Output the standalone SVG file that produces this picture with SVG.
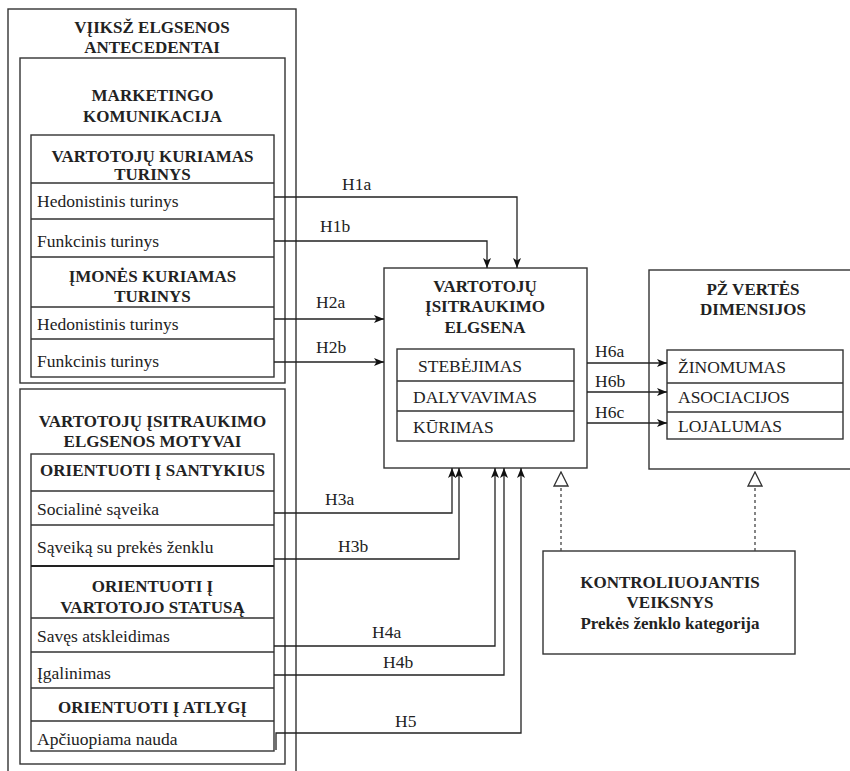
<svg xmlns="http://www.w3.org/2000/svg" width="850" height="771" viewBox="0 0 850 771">
<defs>
<style>
.box{fill:none;stroke:#333;stroke-width:1.4}
.ln{fill:none;stroke:#333;stroke-width:1.3}
.thick{fill:none;stroke:#222;stroke-width:2.2}
text{font-family:'Liberation Serif','DejaVu Serif',serif;fill:#222}
.t{font-size:17.5px}
.b{font-size:17px;font-weight:bold;text-anchor:middle}
.c{fill:none;stroke:#222;stroke-width:1.3}
.d{fill:none;stroke:#444;stroke-width:1.3;stroke-dasharray:3,3}
</style>
<marker id="arr" viewBox="0 0 10 8" refX="10" refY="4" markerWidth="10" markerHeight="8" markerUnits="userSpaceOnUse" orient="auto">
<path d="M0,0 L10,4 L0,8 L2.5,4 Z" fill="#111"/>
</marker>
<marker id="tri" viewBox="0 0 16 16" refX="15" refY="8" markerWidth="16" markerHeight="16" markerUnits="userSpaceOnUse" orient="auto">
<path d="M1,1 L15,8 L1,15 Z" fill="#fff" stroke="#333" stroke-width="1.3"/>
</marker>
</defs>
<rect width="850" height="771" fill="#fff"/>

<g id="antecedentai" font-family="Liberation Serif, serif">
<rect class="box" x="8" y="9" width="288" height="775"/>
<text class="b" x="152" y="33">VĮIKSŽ ELGSENOS</text>
<text class="b" x="152" y="53">ANTECEDENTAI</text>
</g>

<g id="marketingo">
<rect class="box" x="20" y="58" width="265" height="325"/>
<text class="b" x="152.5" y="101">MARKETINGO</text>
<text class="b" x="152.5" y="122">KOMUNIKACIJA</text>
</g>

<g id="turinys">
<rect class="box" x="31" y="135" width="243" height="242"/>
<path class="ln" d="M31,183 H274 M31,219 H274 M31,257 H274 M31,307 H274 M31,339 H274"/>
<text class="b" x="152.5" y="162">VARTOTOJŲ KURIAMAS</text>
<text class="b" x="152.5" y="180">TURINYS</text>
<text class="t" x="37" y="207">Hedonistinis turinys</text>
<text class="t" x="37" y="247">Funkcinis turinys</text>
<text class="b" x="152.5" y="282">ĮMONĖS KURIAMAS</text>
<text class="b" x="152.5" y="302">TURINYS</text>
<text class="t" x="37" y="330">Hedonistinis turinys</text>
<text class="t" x="37" y="367">Funkcinis turinys</text>
</g>

<g id="motyvai">
<rect class="box" x="20" y="389" width="265" height="375"/>
<text class="b" x="152.5" y="427">VARTOTOJŲ ĮSITRAUKIMO</text>
<text class="b" x="152.5" y="447">ELGSENOS MOTYVAI</text>
</g>

<g id="orientuoti">
<rect class="box" x="31" y="454" width="243" height="297"/>
<path class="ln" d="M31,491 H274 M31,525 H274 M31,618 H274 M31,652 H274 M31,688 H274 M31,721 H274"/>
<path class="thick" d="M31,566 H274"/>
<text class="b" x="152.5" y="476">ORIENTUOTI Į SANTYKIUS</text>
<text class="t" x="37" y="515">Socialinė sąveika</text>
<text class="t" x="37" y="553">Sąveiką su prekės ženklu</text>
<text class="b" x="152.5" y="592">ORIENTUOTI Į</text>
<text class="b" x="152.5" y="613">VARTOTOJO STATUSĄ</text>
<text class="t" x="37" y="642">Savęs atskleidimas</text>
<text class="t" x="37" y="679">Įgalinimas</text>
<text class="b" x="152.5" y="713">ORIENTUOTI Į ATLYGĮ</text>
<text class="t" x="37" y="745">Apčiuopiama nauda</text>
</g>

<g id="elgsena">
<rect class="box" x="384" y="268" width="203" height="200"/>
<text class="b" x="485" y="292">VARTOTOJŲ</text>
<text class="b" x="485" y="312">ĮSITRAUKIMO</text>
<text class="b" x="485" y="333">ELGSENA</text>
<rect class="box" x="397" y="349" width="177" height="92"/>
<path class="ln" d="M397,381 H574 M397,411 H574"/>
<text class="t" x="418" y="372">STEBĖJIMAS</text>
<text class="t" x="413" y="403">DALYVAVIMAS</text>
<text class="t" x="413" y="433">KŪRIMAS</text>
</g>

<g id="dimensijos">
<rect class="box" x="649" y="270" width="215" height="199"/>
<text class="b" x="753" y="295">PŽ VERTĖS</text>
<text class="b" x="753" y="315">DIMENSIJOS</text>
<rect class="box" x="667" y="350" width="176" height="89"/>
<path class="ln" d="M667,383 H843 M667,412 H843"/>
<text class="t" x="678" y="373">ŽINOMUMAS</text>
<text class="t" x="678" y="403">ASOCIACIJOS</text>
<text class="t" x="678" y="432">LOJALUMAS</text>
</g>

<g id="kontroliuojantis">
<rect class="box" x="543" y="551" width="252" height="103"/>
<text class="b" x="670" y="588">KONTROLIUOJANTIS</text>
<text class="b" x="670" y="608">VEIKSNYS</text>
<text class="b" x="670" y="629">Prekės ženklo kategorija</text>
</g>

<g id="connectors">
<path class="c" d="M274,197 H517 V268" marker-end="url(#arr)"/>
<path class="c" d="M274,241 H487 V268" marker-end="url(#arr)"/>
<path class="c" d="M274,319 H384" marker-end="url(#arr)"/>
<path class="c" d="M274,362 H384" marker-end="url(#arr)"/>
<path class="c" d="M274,513 H452 V468" marker-end="url(#arr)"/>
<path class="c" d="M274,559 H459 V468" marker-end="url(#arr)"/>
<path class="c" d="M274,646 H495 V468" marker-end="url(#arr)"/>
<path class="c" d="M274,675 H504 V468" marker-end="url(#arr)"/>
<path class="c" d="M276,750 V733 H521 V468" marker-end="url(#arr)"/>
<path class="c" d="M587,363 H667" marker-end="url(#arr)"/>
<path class="c" d="M587,392 H667" marker-end="url(#arr)"/>
<path class="c" d="M587,423 H667" marker-end="url(#arr)"/>
<path class="d" d="M561,551 V472" marker-end="url(#tri)"/>
<path class="d" d="M755,551 V472" marker-end="url(#tri)"/>
<text class="t" x="342" y="190">H1a</text>
<text class="t" x="320" y="232">H1b</text>
<text class="t" x="316" y="308">H2a</text>
<text class="t" x="316" y="353">H2b</text>
<text class="t" x="325" y="505">H3a</text>
<text class="t" x="338" y="552">H3b</text>
<text class="t" x="372" y="638">H4a</text>
<text class="t" x="383" y="668">H4b</text>
<text class="t" x="395" y="727">H5</text>
<text class="t" x="595" y="357">H6a</text>
<text class="t" x="595" y="387">H6b</text>
<text class="t" x="595" y="418">H6c</text>
</g>
</svg>
